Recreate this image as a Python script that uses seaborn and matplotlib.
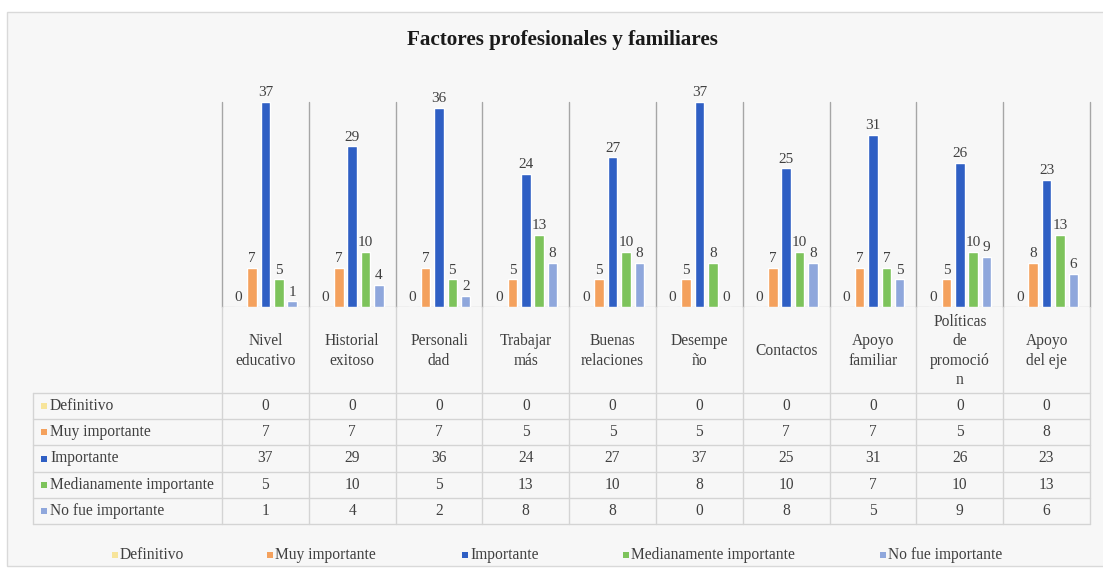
import matplotlib
matplotlib.use("Agg")
import matplotlib.pyplot as plt
import numpy as np
import pandas as pd
import seaborn as sns
from matplotlib.patches import Rectangle
from matplotlib.lines import Line2D

# ---------------- data ----------------
categories = ["Nivel educativo", "Historial exitoso", "Personalidad", "Trabajar más",
              "Buenas relaciones", "Desempeño", "Contactos", "Apoyo familiar",
              "Políticas de promoción", "Apoyo del eje"]
header_labels = ["Nivel\neducativo", "Historial\nexitoso", "Personali\ndad", "Trabajar\nmás",
                 "Buenas\nrelaciones", "Desempe\nño", "Contactos", "Apoyo\nfamiliar",
                 "Políticas\nde\npromoció\nn", "Apoyo\ndel eje"]
series = ["Definitivo", "Muy importante", "Importante", "Medianamente importante", "No fue importante"]
definitivo = [0, 0, 0, 0, 0, 0, 0, 0, 0, 0]
muy_importante = [7, 7, 7, 5, 5, 5, 7, 7, 5, 8]
importante = [37, 29, 36, 24, 27, 37, 25, 31, 26, 23]
medianamente = [5, 10, 5, 13, 10, 8, 10, 7, 10, 13]
no_fue = [1, 4, 2, 8, 8, 0, 8, 5, 9, 6]
colors = ["#F7E49A", "#F4A15D", "#2F5FC4", "#7DC35B", "#8FA7DC"]
title = "Factores profesionales y familiares"

values = [definitivo, muy_importante, importante, medianamente, no_fue]
rows = []
for s, vals in zip(series, values):
    for c, v in zip(categories, vals):
        rows.append({"Categoría": c, "Serie": s, "Valor": v})
df = pd.DataFrame(rows)

sns.set_theme(style="white")
plt.rcParams["font.family"] = ["Liberation Serif", "DejaVu Serif"]
TXT = "#404040"
FS = 11.2

W, H = 1103, 568
fig = plt.figure(figsize=(W / 100, H / 100), dpi=100)
fig.patch.set_facecolor("white")

def fx(x):
    return x / W

def fy(y):
    return 1 - y / H

# chart area background
fig.add_artist(Rectangle((fx(7), fy(566)), fx(1115) - fx(7), fy(12) - fy(566),
                         transform=fig.transFigure, facecolor="#f7f7f7",
                         edgecolor="#d9d9d9", lw=1, zorder=-10))

# plot area
L, R, T, B = 222, 1090, 102, 307
ax = fig.add_axes([fx(L), fy(B), (R - L) / W, (B - T) / H])
ax.set_facecolor("none")
sns.barplot(data=df, x="Categoría", y="Valor", hue="Serie", order=categories,
            hue_order=series, palette=colors, saturation=1, width=0.77, gap=0.29,
            errorbar=None, legend=False, ax=ax)
ax.set_xlim(-0.5, len(categories) - 0.5)
ax.set_ylim(0, 37)
for sp in ax.spines.values():
    sp.set_visible(False)
ax.set_xticks([])
ax.set_yticks([])
ax.set_xlabel("")
ax.set_ylabel("")
for cont in ax.containers:
    ax.bar_label(cont, padding=2, fontsize=11, color=TXT)
for i in range(len(categories) + 1):
    ax.axvline(i - 0.5, color="#a6a6a6", lw=1, clip_on=False, zorder=0)
ax.axhline(0, color="#d0d0d0", lw=1, zorder=0)

# title
fig.text(fx(562), fy(40), title, ha="center", va="center", fontsize=15.2,
         fontweight="bold", color="#1a1a1a")

# data table
step = (R - L) / len(categories)
tbl_left = 33
row_top = 393
row_h = 26.2
n_rows = len(series)
tbl_bottom = row_top + row_h * n_rows
line_col = "#d4d4d4"
for i in range(len(categories) + 1):
    x = L + i * step
    fig.add_artist(Line2D([fx(x), fx(x)], [fy(B), fy(tbl_bottom)], color=line_col,
                          lw=1, transform=fig.transFigure))
fig.add_artist(Line2D([fx(tbl_left), fx(tbl_left)], [fy(row_top), fy(tbl_bottom)],
                      color=line_col, lw=1, transform=fig.transFigure))
for r in range(n_rows + 1):
    y = row_top + r * row_h
    fig.add_artist(Line2D([fx(tbl_left), fx(R)], [fy(y), fy(y)], color=line_col,
                          lw=1, transform=fig.transFigure))

for i, lab in enumerate(header_labels):
    cx = L + (i + 0.5) * step
    fig.text(fx(cx), fy(351), lab, ha="center", va="center", fontsize=FS,
             color=TXT, linespacing=1.3)

for r, (s, vals, col) in enumerate(zip(series, values, colors)):
    cy = row_top + (r + 0.5) * row_h
    fig.add_artist(Rectangle((fx(41), fy(cy + 3)), 6 / W, 6 / H,
                             transform=fig.transFigure, facecolor=col, edgecolor="none"))
    fig.text(fx(50), fy(cy), s, ha="left", va="center", fontsize=FS, color=TXT)
    for i, v in enumerate(vals):
        cx = L + (i + 0.5) * step
        fig.text(fx(cx), fy(cy), str(v), ha="center", va="center", fontsize=FS,
                 color=TXT)

# legend
leg_y = 555
leg_x = [112, 267, 462, 623, 880]
for s, col, x in zip(series, colors, leg_x):
    fig.add_artist(Rectangle((fx(x), fy(leg_y + 3)), 6 / W, 6 / H,
                             transform=fig.transFigure, facecolor=col, edgecolor="none"))
    fig.text(fx(x + 8), fy(leg_y), s, ha="left", va="center", fontsize=FS, color=TXT)

fig.savefig("out.png", dpi=100)
